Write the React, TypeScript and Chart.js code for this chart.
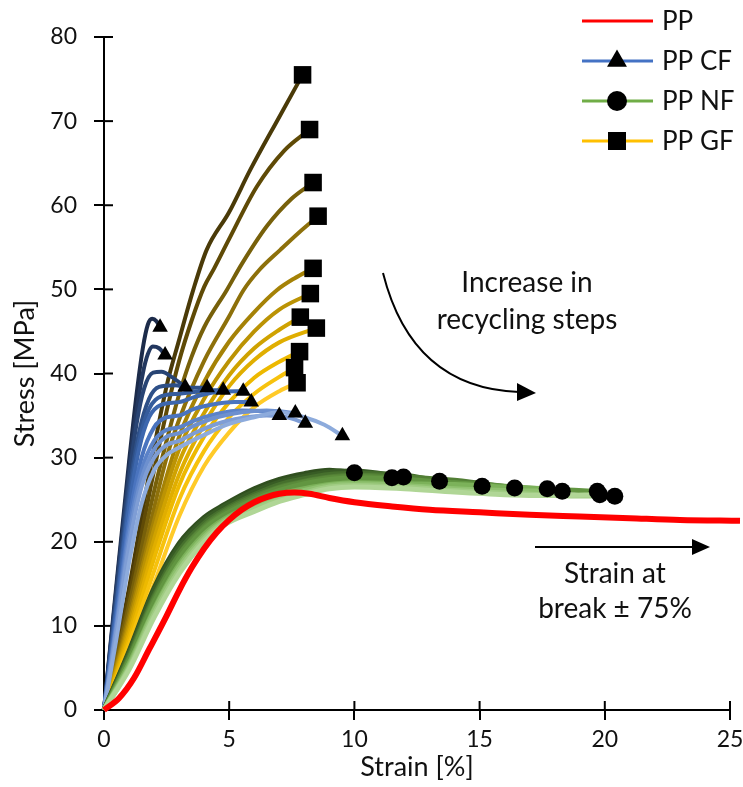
import React, { useEffect, useRef } from 'react';
import { Chart, registerables } from 'chart.js';

Chart.register(...registerables);

type P = [number, number];

// ---------------- data ----------------
const X_TICKS = [0, 5, 10, 15, 20, 25];
const Y_TICKS = [0, 10, 20, 30, 40, 50, 60, 70, 80];

const PP_CURVE: P[] = [
  [0, 0], [0.6, 1.4], [1.2, 3.8], [1.8, 7.2], [2.5, 11.2], [3, 14.2], [3.5, 16.9], [4, 19.2],
  [4.5, 21.1], [5, 22.6], [5.5, 23.8], [6, 24.7], [6.5, 25.3], [7, 25.7], [7.6, 25.85], [8.2, 25.7],
  [9, 25.2], [10, 24.7], [11.5, 24.2], [13, 23.8], [15, 23.5], [17, 23.2], [19, 23.0], [21, 22.8],
  [23, 22.6], [25.4, 22.5],
];

const CF_CURVES: P[][] = [
  [[0, 0], [0.5, 15], [1, 29.5], [1.3, 37.5], [1.55, 43], [1.75, 45.8], [1.92, 46.5], [2.1, 46.2], [2.24, 45.5]],
  [[0, 0], [0.5, 14.5], [1, 28.5], [1.3, 35.5], [1.55, 40], [1.75, 42.3], [1.95, 43.2], [2.2, 43], [2.44, 42.2]],
  [[0, 0], [0.5, 14], [1, 27.5], [1.3, 34], [1.6, 38.2], [1.96, 40.1], [2.3, 40.2], [2.7, 39.6], [3.24, 38.4]],
  [[0, 0], [0.5, 13], [1, 26], [1.4, 33], [1.8, 37], [2.2, 38.4], [2.8, 38.6], [3.5, 38.3], [4.12, 38.3]],
  [[0, 0], [0.5, 12.5], [1, 25], [1.4, 32], [1.8, 35.8], [2.3, 37.3], [3, 37.6], [3.6, 37.8], [4.2, 38], [4.76, 38.0]],
  [[0, 0], [0.5, 12], [1, 24], [1.4, 31], [1.8, 34.8], [2.3, 36.3], [3, 36.6], [3.6, 37.2], [4.5, 37.8], [5.56, 37.9]],
  [[0, 0], [0.5, 11], [1, 22.5], [1.5, 30], [2, 33.6], [2.5, 34.8], [3, 35], [3.6, 35.8], [4.5, 36.4], [5.2, 36.6], [5.88, 36.6]],
  [[0, 0], [0.5, 10.5], [1, 21.5], [1.5, 28.5], [2, 32], [2.5, 33.3], [3, 33.6], [3.6, 34.4], [4.5, 35.2], [5.5, 35.6], [6.3, 35.5], [7.0, 35.0]],
  [[0, 0], [0.5, 10], [1, 20.5], [1.5, 27.5], [2, 31], [2.5, 32.5], [3, 32.9], [3.6, 33.8], [4.5, 34.8], [5.5, 35.4], [6.5, 35.6], [7.64, 35.3]],
  [[0, 0], [0.5, 9.5], [1, 19.5], [1.5, 26.5], [2, 30], [2.5, 31.5], [3, 32], [3.6, 32.9], [4.5, 34], [5.5, 34.7], [6.5, 35], [7.3, 34.8], [8.04, 34.1]],
  [[0, 0], [0.5, 8.5], [1, 17.5], [1.5, 24.5], [2, 28.5], [2.5, 30.3], [3, 31.2], [4, 32.7], [5, 34], [6, 34.8], [7, 35.4], [8, 34.8], [8.8, 33.9], [9.52, 32.6]],
];

const NF_CURVES: P[][] = [
  [[0, 0], [1, 7.0], [2, 14.5], [3, 19.8], [4, 22.9], [4.8, 24.4], [6, 26.3], [7, 27.4], [8, 28.1], [9, 28.5], [10, 28.2]],
  [[0, 0], [1, 6.1], [2, 13.1], [3, 18.4], [4, 21.7], [4.8, 23.4], [6, 25.2], [7, 26.4], [8, 27.1], [9, 27.6], [10, 27.8], [11.5, 27.6]],
  [[0, 0], [1, 6.8], [2, 14.2], [3, 19.4], [4, 22.6], [4.8, 24.2], [6, 26.0], [7, 27.1], [8, 27.8], [9, 28.3], [10, 28.4], [11.96, 27.7]],
  [[0, 0], [1, 6.5], [2, 13.6], [3, 18.9], [4, 22.2], [4.8, 23.8], [6, 25.6], [7, 26.8], [8, 27.5], [9, 28.0], [10, 28.1], [12, 27.9], [13.4, 27.2]],
  [[0, 0], [1, 5.8], [2, 12.6], [3, 17.8], [4, 21.3], [4.8, 23.1], [6, 24.8], [7, 26.0], [8, 26.7], [9, 27.3], [10, 27.4], [12, 27.2], [14, 26.8], [15.1, 26.6]],
  [[0, 0], [1, 6.2], [2, 13.3], [3, 18.5], [4, 21.9], [4.8, 23.6], [6, 25.4], [7, 26.5], [8, 27.2], [9, 27.7], [10, 27.9], [12, 27.7], [14, 27.3], [16.4, 26.4]],
  [[0, 0], [1, 5.5], [2, 12.0], [3, 17.3], [4, 20.9], [4.8, 22.7], [6, 24.4], [7, 25.6], [8, 26.3], [9, 26.8], [10, 27.0], [12, 26.9], [14, 26.8], [16, 26.5], [17.7, 26.3]],
  [[0, 0], [1, 5.2], [2, 11.8], [3, 17.0], [4, 20.6], [4.8, 22.5], [6, 24.1], [7, 25.3], [8, 26.1], [9, 26.7], [10, 26.9], [12, 26.7], [14, 26.3], [16, 26.1], [18.3, 26.0]],
  [[0, 0], [1, 5.9], [2, 12.8], [3, 18.0], [4, 21.5], [4.8, 23.2], [6, 25.0], [7, 26.1], [8, 26.9], [9, 27.4], [10, 27.6], [12, 27.4], [14, 27.0], [16, 26.6], [18, 26.2], [19.7, 26.0]],
  [[0, 0], [1, 4.8], [2, 11.0], [3, 16.2], [4, 20.0], [4.8, 22.0], [6, 23.6], [7, 24.8], [8, 25.6], [9, 26.3], [10, 26.5], [12, 26.3], [14, 25.9], [16, 25.6], [18, 25.5], [19.8, 25.6]],
  [[0, 0], [1, 5.0], [2, 11.4], [3, 16.6], [4, 20.3], [4.8, 22.3], [6, 23.9], [7, 25.0], [8, 25.8], [9, 26.5], [10, 26.7], [12, 26.5], [14, 26.1], [16, 25.8], [18, 25.5], [20.4, 25.4]],
];

const GF_CURVES: P[][] = [
  [[0, 0], [1, 14.5], [1.8, 28], [2.5, 38.5], [3, 44], [3.57, 50], [4.1, 54.7], [5, 59.2], [5.84, 64.2], [7, 70.5], [7.93, 75.5]],
  [[0, 0], [1, 13.5], [2, 28.5], [2.5, 35.5], [3, 41.5], [3.5, 46.3], [4, 50.3], [4.4, 52.5], [5, 56], [6.1, 62.2], [7.2, 66.5], [8.21, 69]],
  [[0, 0], [1, 12.5], [2, 26], [2.5, 32], [3, 37.5], [3.5, 42], [4, 45.5], [4.9, 49.9], [5.5, 53], [6.5, 57.5], [7.5, 60.8], [8.35, 62.7]],
  [[0, 0], [1, 11.5], [2, 24], [2.5, 30], [3, 34.5], [4, 41.5], [5, 46.8], [5.57, 49.9], [6.2, 52.3], [7.04, 54.7], [7.8, 56.8], [8.55, 58.7]],
  [[0, 0], [1, 10.8], [2, 22.5], [3, 32.5], [4, 39], [5, 43.8], [6, 47.3], [6.9, 49.9], [7.6, 51.3], [8.35, 52.5]],
  [[0, 0], [1, 10.2], [2, 21.5], [3, 31], [4, 37], [5, 41.5], [6, 45], [7, 47.6], [8.24, 49.5]],
  [[0, 0], [1, 9.6], [2, 20.3], [3, 29.5], [4, 35.3], [5, 39.8], [6, 43], [7, 45.2], [7.84, 46.7]],
  [[0, 0], [1, 9.0], [2, 19.2], [3, 28], [4, 34], [5, 38.5], [6, 41.6], [7, 43.7], [8.48, 45.4]],
  [[0, 0], [1, 8.4], [2, 18], [3, 26.7], [4, 32.5], [5, 36.6], [6, 39.5], [7, 41.4], [7.81, 42.6]],
  [[0, 0], [1, 7.8], [2, 16.5], [3, 25], [4, 30.8], [5, 34.8], [6, 37.6], [7, 39.6], [7.61, 40.7]],
  [[0, 0], [1, 7.2], [2, 15], [3, 23], [4, 29], [5, 33], [6, 36], [7, 37.9], [7.71, 38.9]],
];

const LEGEND_LABELS = ['PP', 'PP CF', 'PP NF', 'PP GF'];
const NOTE_RECYCLING = ['Increase in', 'recycling steps'];
const NOTE_STRAIN = ['Strain at', 'break ± 75%'];
const X_TITLE = 'Strain [%]';
const Y_TITLE = 'Stress [MPa]';

// ---------------- styles ----------------
const FONT = 'Lato, "Open Sans", sans-serif';
const TEXT = '#111';
const PP_COLOR = '#ff0000';
const CF_COLORS = ['#1c2b4a', '#22375f', '#284474', '#2e5088', '#355c9c', '#3d67ae', '#4a74bf', '#5b82c8', '#6d90cf', '#7e9dd5', '#8dabdc'];
const NF_COLORS = ['#304f1f', '#5a8a3a', '#385c25', '#46702d', '#6a9f47', '#527f35', '#7cb25a', '#8fc16f', '#629641', '#b0d696', '#a0cc83'];
// layering rank of each NF curve (0 = darkest, drawn underneath; 10 = lightest, drawn on top)
const NF_LAYER = [0, 5, 1, 3, 6, 4, 8, 9, 7, 10, 9.5];
const GF_COLORS = ['#4a3a08', '#5f4a06', '#77600a', '#8d700a', '#a58206', '#bb9304', '#cfa200', '#e0ae00', '#edb900', '#f7c20d', '#ffca28'];
const LEGEND_COLORS = ['#ff0000', '#4472c4', '#70ad47', '#ffc000'];
const LEGEND_MARKERS = ['none', 'triangle', 'circle', 'rect'];

const toXY = (pts: P[]) => pts.map(([x, y]) => ({ x, y }));

const lineDs = (pts: P[], color: string, width: number, order: number) => ({
  data: toXY(pts),
  borderColor: color,
  backgroundColor: color,
  borderWidth: width,
  pointRadius: 0,
  pointHoverRadius: 0,
  cubicInterpolationMode: 'monotone',
  fill: false,
  order,
  clip: false,
});

const markerDs = (curves: P[][], style: string, radius: number) => ({
  data: toXY(curves.map((c) => c[c.length - 1])),
  showLine: false,
  pointStyle: style,
  pointRadius: radius,
  pointHoverRadius: radius,
  pointBackgroundColor: '#000',
  pointBorderColor: '#000',
  pointBorderWidth: 0,
  borderColor: '#000',
  backgroundColor: '#000',
  order: 0,
  clip: false,
});

function drawMarker(ctx: CanvasRenderingContext2D, kind: string, x: number, y: number) {
  ctx.fillStyle = '#000';
  ctx.beginPath();
  if (kind === 'triangle') {
    const r = 11.5;
    ctx.moveTo(x, y - r);
    ctx.lineTo(x + r * 0.866, y + r * 0.5);
    ctx.lineTo(x - r * 0.866, y + r * 0.5);
    ctx.closePath();
    ctx.fill();
  } else if (kind === 'circle') {
    ctx.arc(x, y, 10, 0, Math.PI * 2);
    ctx.fill();
  } else if (kind === 'rect') {
    ctx.rect(x - 9, y - 9, 18, 18);
    ctx.fill();
  }
}

const overlayPlugin = {
  id: 'overlay',
  beforeDatasetsDraw(chart: any) {
    const { ctx, chartArea, scales } = chart;
    ctx.save();
    ctx.strokeStyle = '#000';
    ctx.lineWidth = 2;
    scales.x.ticks.forEach((t: any) => {
      const px = scales.x.getPixelForValue(t.value);
      ctx.beginPath();
      ctx.moveTo(px, chartArea.bottom);
      ctx.lineTo(px, chartArea.bottom - 9);
      ctx.stroke();
    });
    scales.y.ticks.forEach((t: any) => {
      const py = scales.y.getPixelForValue(t.value);
      ctx.beginPath();
      ctx.moveTo(chartArea.left, py);
      ctx.lineTo(chartArea.left + 9, py);
      ctx.stroke();
    });
    ctx.restore();
  },
  afterDraw(chart: any) {
    const { ctx } = chart;
    ctx.save();
    // legend
    LEGEND_LABELS.forEach((label, i) => {
      const y = 21 + i * 40;
      ctx.strokeStyle = LEGEND_COLORS[i];
      ctx.lineWidth = 3;
      ctx.beginPath();
      ctx.moveTo(582, y);
      ctx.lineTo(653, y);
      ctx.stroke();
      drawMarker(ctx, LEGEND_MARKERS[i], 617, y);
      ctx.fillStyle = TEXT;
      ctx.font = `26px ${FONT}`;
      ctx.textAlign = 'left';
      ctx.textBaseline = 'middle';
      ctx.fillText(label, 662, y + 1);
    });

    // annotation 1
    ctx.font = `28px ${FONT}`;
    ctx.textAlign = 'center';
    ctx.textBaseline = 'middle';
    ctx.fillStyle = TEXT;
    ctx.fillText(NOTE_RECYCLING[0], 527, 283);
    ctx.fillText(NOTE_RECYCLING[1], 527, 320);
    ctx.strokeStyle = '#000';
    ctx.lineWidth = 2;
    ctx.beginPath();
    ctx.moveTo(383, 273);
    ctx.quadraticCurveTo(412, 388, 519, 392);
    ctx.stroke();
    ctx.fillStyle = '#000';
    ctx.beginPath();
    ctx.moveTo(536, 393);
    ctx.lineTo(517, 383);
    ctx.lineTo(517, 401);
    ctx.closePath();
    ctx.fill();

    // annotation 2
    ctx.fillStyle = TEXT;
    ctx.fillText(NOTE_STRAIN[0], 615, 574);
    ctx.fillText(NOTE_STRAIN[1], 615, 609);
    ctx.beginPath();
    ctx.moveTo(535, 547);
    ctx.lineTo(694, 547);
    ctx.stroke();
    ctx.fillStyle = '#000';
    ctx.beginPath();
    ctx.moveTo(710, 547);
    ctx.lineTo(692, 539);
    ctx.lineTo(692, 555);
    ctx.closePath();
    ctx.fill();
    ctx.restore();
  },
};

export default function App() {
  const ref = useRef<HTMLCanvasElement>(null);

  useEffect(() => {
    if (!ref.current) return;
    // higher "order" is drawn first (underneath): darker curves go underneath lighter ones
    const datasets: any[] = [
      markerDs(CF_CURVES, 'triangle', 9),
      markerDs(NF_CURVES, 'circle', 8.5),
      markerDs(GF_CURVES, 'rect', 12.4),
      lineDs(PP_CURVE, PP_COLOR, 6, 10),
      ...NF_CURVES.map((c, i) => lineDs(c, NF_COLORS[i], 5, 20 + (10 - NF_LAYER[i]) * 0.1)),
      ...CF_CURVES.map((c, i) => lineDs(c, CF_COLORS[i], 4, 30 + (10 - i) * 0.1)),
      ...GF_CURVES.map((c, i) => lineDs(c, GF_COLORS[i], 4, 40 + (10 - i) * 0.1)),
    ];

    const chart = new Chart(ref.current, {
      type: 'line',
      data: { datasets },
      plugins: [overlayPlugin],
      options: {
        animation: false,
        responsive: false,
        events: [],
        layout: { padding: { top: 37, right: 13, left: 0, bottom: 0 } },
        plugins: {
          legend: { display: false },
          tooltip: { enabled: false },
        },
        scales: {
          x: {
            type: 'linear',
            min: 0,
            max: 25,
            afterBuildTicks: (s: any) => {
              s.ticks = X_TICKS.map((v) => ({ value: v }));
            },
            afterFit: (s: any) => {
              s.height = 77;
              s.paddingLeft = 0;
              s.paddingRight = 0;
            },
            ticks: { color: TEXT, font: { family: FONT, size: 23 }, padding: 6, maxRotation: 0 },
            grid: { drawOnChartArea: false, drawTicks: true, tickLength: 10, color: '#000', lineWidth: 2 },
            border: { display: true, color: '#000', width: 2 },
            title: {
              display: true,
              text: X_TITLE,
              color: TEXT,
              font: { family: FONT, size: 27 },
              padding: { top: 0, bottom: 4 },
            },
          },
          y: {
            type: 'linear',
            min: 0,
            max: 80,
            afterBuildTicks: (s: any) => {
              s.ticks = Y_TICKS.map((v) => ({ value: v }));
            },
            afterFit: (s: any) => {
              s.width = 104;
              s.paddingTop = 0;
              s.paddingBottom = 0;
            },
            ticks: { color: TEXT, font: { family: FONT, size: 23 }, padding: 17 },
            grid: { drawOnChartArea: false, drawTicks: true, tickLength: 10, color: '#000', lineWidth: 2 },
            border: { display: true, color: '#000', width: 2 },
            title: {
              display: true,
              text: Y_TITLE,
              color: TEXT,
              font: { family: FONT, size: 27 },
              padding: { top: 9, bottom: 0 },
            },
          },
        },
      } as any,
    });
    return () => chart.destroy();
  }, []);

  return (
    <div style={{ position: 'absolute', left: 0, top: 0, width: 743, height: 787, background: '#fff' }}>
      <canvas ref={ref} width={743} height={787} style={{ width: 743, height: 787 }} />
    </div>
  );
}
